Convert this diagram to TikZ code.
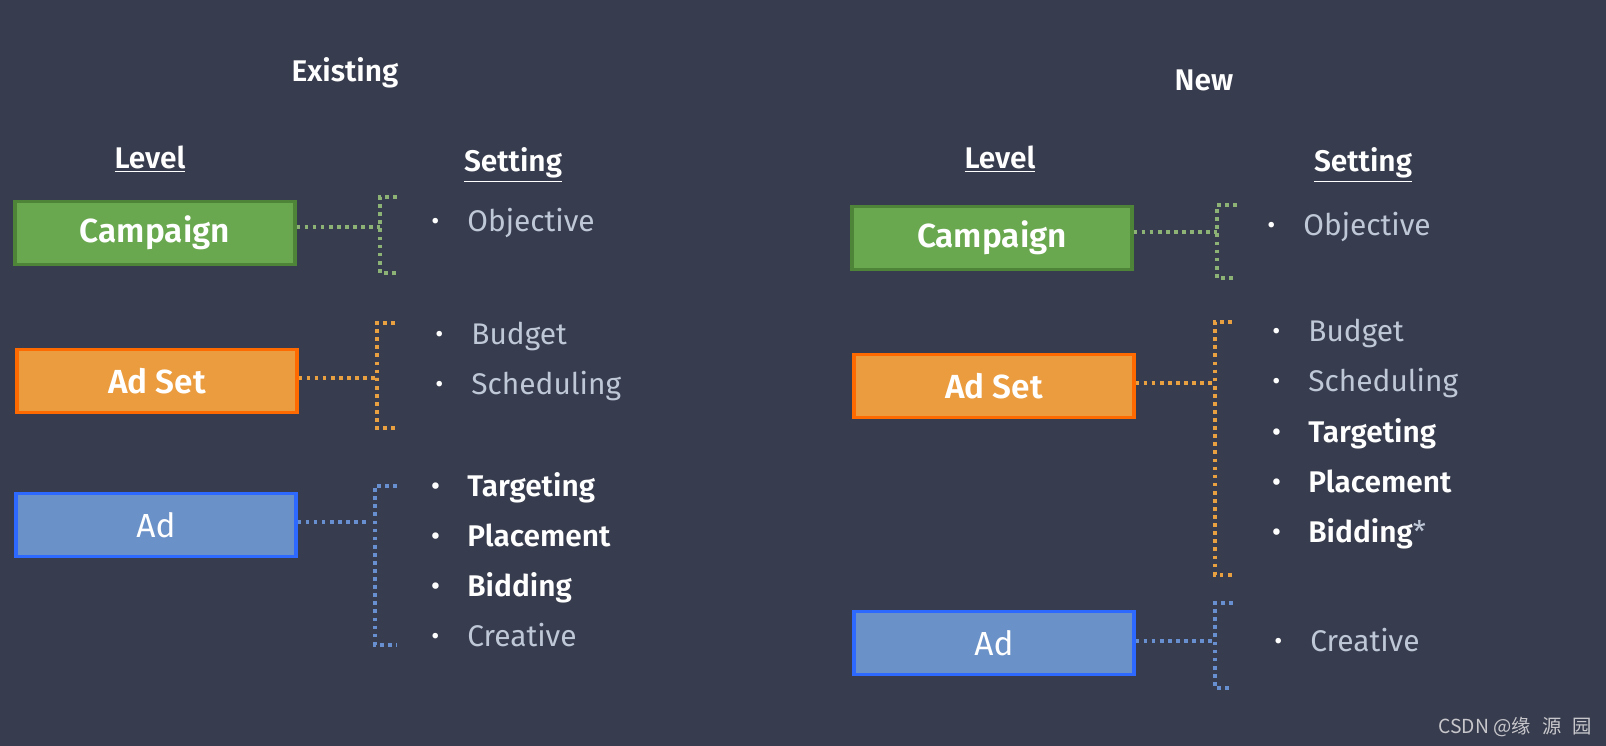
\documentclass[tikz,border=0pt]{standalone}
\usepackage{fontspec}
\setmainfont{Fira Sans}[BoldFont={Fira Sans SemiBold}]
\newfontfamily\cjkfont{Noto Sans CJK SC}
\usetikzlibrary{positioning}

\definecolor{bgcol}{RGB}{55,60,78}
\definecolor{campfill}{RGB}{106,168,79}
\definecolor{campline}{RGB}{78,132,56}
\definecolor{setfill}{RGB}{235,156,62}
\definecolor{setline}{RGB}{255,106,0}
\definecolor{adfill}{RGB}{106,145,200}
\definecolor{adline}{RGB}{45,105,255}
\definecolor{itemcol}{RGB}{190,200,214}
\definecolor{campdot}{RGB}{140,178,118}
\definecolor{setdot}{RGB}{232,160,64}
\definecolor{addot}{RGB}{104,144,208}
\definecolor{wmcol}{RGB}{200,200,204}

\newcommand{\bul}{\makebox[0.72cm][l]{\color{white}\raisebox{0.08em}{\fontsize{14}{14}\selectfont\textbullet}}}

\begin{document}
\begin{tikzpicture}[x=0.02cm, y=-0.02cm,
    lvl/.style={rectangle, draw, line width=1.8pt, minimum width=5.6cm, minimum height=1.26cm, inner sep=0pt, text=white, font=\fontsize{19}{22}\selectfont\bfseries},
    camp/.style={lvl, fill=campfill, draw=campline},
    adset/.style={lvl, fill=setfill, draw=setline},
    ad/.style={lvl, fill=adfill, draw=adline, font=\fontsize{19}{22}\selectfont},
    head/.style={text=white, inner sep=0pt, font=\fontsize{17}{20}\selectfont\bfseries},
    item/.style={anchor=west, inner sep=0pt, text=itemcol, text height=0.7em, text depth=0.2em, font=\fontsize{17}{20}\selectfont},
    key/.style={item, text=white, font=\fontsize{17}{20}\selectfont\bfseries},
    dots/.style={line width=2.1pt, dash pattern=on 2.1pt off 2.5pt}]

    \fill[bgcol] (0,0) rectangle (1606,746);
    \useasboundingbox (0,0) rectangle (1606,746);

    % existing
    \node (exist) [head] at (345,73) {Existing};
    \node (elevel) [head] at (150,159) {\underline{Level}};
    \node (eset-h) [head] at (513,165) {\underline{Setting}};

    \node (ecamp) [camp] at (155,233) {Campaign};
    \node (eset) [adset] at (157,381) {Ad Set};
    \node (ead) [ad] at (156,525) {Ad};

    \node (e-obj) [item] at (431,227) {\bul Objective};
    \node (e-bud) [item] at (435,340) {\bul Budget};
    \node (e-sch) [item] at (435,390) {\bul Scheduling};
    \node (e-tar) [key] at (431,492) {\bul Targeting};
    \node (e-pla) [key] at (431,542) {\bul Placement};
    \node (e-bid) [key] at (431,592) {\bul Bidding};
    \node (e-cre) [item] at (431,642) {\bul Creative};

    \coordinate (ecj) at (380,227);
    \coordinate (ect) at (397,197);
    \coordinate (ecb) at (397,273);
    \coordinate (esj) at (377,378);
    \coordinate (est) at (395,323);
    \coordinate (esb) at (395,428);
    \coordinate (eaj) at (366,522);
    \coordinate (eax) at (375,522);
    \coordinate (eat) at (397,486);
    \coordinate (eab) at (397,645);

    \draw [dots, campdot] (ecamp.east |- ecj) -- (ecj);
    \draw [dots, campdot] (ect) -| (ecj) |- (ecb);
    \draw [dots, setdot] (eset.east |- esj) -- (esj);
    \draw [dots, setdot] (est) -| (esj) |- (esb);
    \draw [dots, addot] (ead.east |- eaj) -- (eaj);
    \draw [dots, addot] (eat) -| (eax) |- (eab);

    % new
    \node (new) [head] at (1204,80) {New};
    \node (nlevel) [head] at (1000,159) {\underline{Level}};
    \node (nset-h) [head] at (1363,165) {\underline{Setting}};

    \node (ncamp) [camp] at (992,238) {Campaign};
    \node (nset) [adset] at (994,386) {Ad Set};
    \node (nad) [ad] at (994,643) {Ad};

    \node (n-obj) [item] at (1267,231) {\bul Objective};
    \node (n-bud) [item] at (1272,337) {\bul Budget};
    \node (n-sch) [item] at (1272,387) {\bul Scheduling};
    \node (n-tar) [key] at (1272,438) {\bul Targeting};
    \node (n-pla) [key] at (1272,488) {\bul Placement};
    \node (n-bid) [key] at (1272,538) {\bul Bidding{\color{itemcol}\mdseries*}};
    \node (n-cre) [item] at (1274,647) {\bul Creative};

    \coordinate (ncj) at (1217,232);
    \coordinate (nct) at (1237,205);
    \coordinate (ncb) at (1237,278);
    \coordinate (nsj) at (1215,383);
    \coordinate (nst) at (1232,322);
    \coordinate (nsb) at (1232,575);
    \coordinate (naj) at (1215,641);
    \coordinate (nat) at (1233,603);
    \coordinate (nab) at (1233,688);

    \draw [dots, campdot] (ncamp.east |- ncj) -- (ncj);
    \draw [dots, campdot] (nct) -| (ncj) |- (ncb);
    \draw [dots, setdot] (nset.east |- nsj) -- (nsj);
    \draw [dots, setdot] (nst) -| (nsj) |- (nsb);
    \draw [dots, addot] (nad.east |- naj) -- (naj);
    \draw [dots, addot] (nat) -| (naj) |- (nab);

    \node (wm) [anchor=east, text=wmcol, inner sep=0pt, font=\cjkfont\fontsize{11}{13}\selectfont] at (1592,727) {CSDN @缘\hspace{0.22cm}源\hspace{0.22cm}园};

\end{tikzpicture}
\end{document}
